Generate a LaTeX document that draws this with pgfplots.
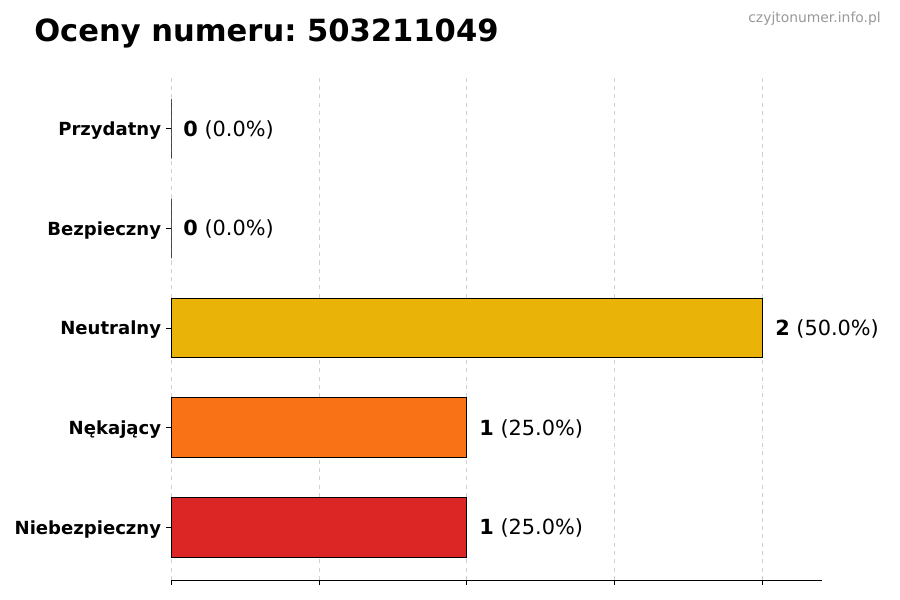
\documentclass[border=0pt]{standalone}
\usepackage{pgfplots}
\pgfplotsset{compat=1.18}
\usepackage{fontspec}
\setmainfont{DejaVu Sans}
\frenchspacing
\definecolor{cRed}{HTML}{DC2626}
\definecolor{cOrange}{HTML}{F97316}
\definecolor{cYellow}{HTML}{EAB308}
\definecolor{cGreen}{HTML}{22C55E}
\definecolor{cGreen2}{HTML}{16A34A}
\begin{document}
\begin{tikzpicture}
\path[use as bounding box] (0,0) rectangle (9in,6in);
\begin{axis}[
  at={(1.71in,0.20in)}, anchor=south west,
  scale only axis, width=6.51in, height=5.04in,
  xmin=0, xmax=2.2, ymin=-0.53, ymax=4.53,
  xtick={0,0.5,1,1.5,2}, xticklabels={},
  ytick={0,1,2,3,4},
  yticklabels={Niebezpieczny,Nękający,Neutralny,Bezpieczny,Przydatny},
  axis x line*=bottom, axis y line*=left,
  y axis line style={draw=none},
  x axis line style={line width=0.6bp},
  tick align=outside, major tick length=0.05in,
  tick style={black, line width=0.6bp},
  xmajorgrids, grid style={dashed, black!18, line width=0.6bp},
  xbar, bar width=0.6, bar shift=0pt,
  yticklabel style={font=\fontsize{13bp}{15bp}\selectfont\bfseries, black, yshift=-0.02in},
  point meta=explicit symbolic,
  nodes near coords={\pgfplotspointmeta},
  nodes near coords style={anchor=west, inner sep=0pt, xshift=0.12in, yshift=-0.01in,
    font=\fontsize{15bp}{18bp}\selectfont, black},
  clip=false,
]
\addplot[fill=cRed, draw=black, line width=0.7bp, bar shift=0pt] coordinates {(1,0) [\textbf{1} (25.0\%)]};
\addplot[fill=cOrange, draw=black, line width=0.7bp, bar shift=0pt] coordinates {(1,1) [\textbf{1} (25.0\%)]};
\addplot[fill=cYellow, draw=black, line width=0.7bp, bar shift=0pt] coordinates {(2,2) [\textbf{2} (50.0\%)]};
\addplot[fill=cGreen, draw=black, line width=0.7bp, bar shift=0pt] coordinates {(0,3) [\textbf{0} (0.0\%)]};
\addplot[fill=cGreen2, draw=black, line width=0.7bp, bar shift=0pt] coordinates {(0,4) [\textbf{0} (0.0\%)]};
\end{axis}
\node[anchor=base west, inner sep=0pt, font=\fontsize{22bp}{26bp}\selectfont\bfseries] at (0.34in,5.58in) {Oceny numeru: 503211049};
\node[anchor=base east, inner sep=0pt, font=\fontsize{10bp}{12bp}\selectfont, text=black!40] at (8.81in,5.77in) {czyjtonumer.info.pl};
\end{tikzpicture}
\end{document}
